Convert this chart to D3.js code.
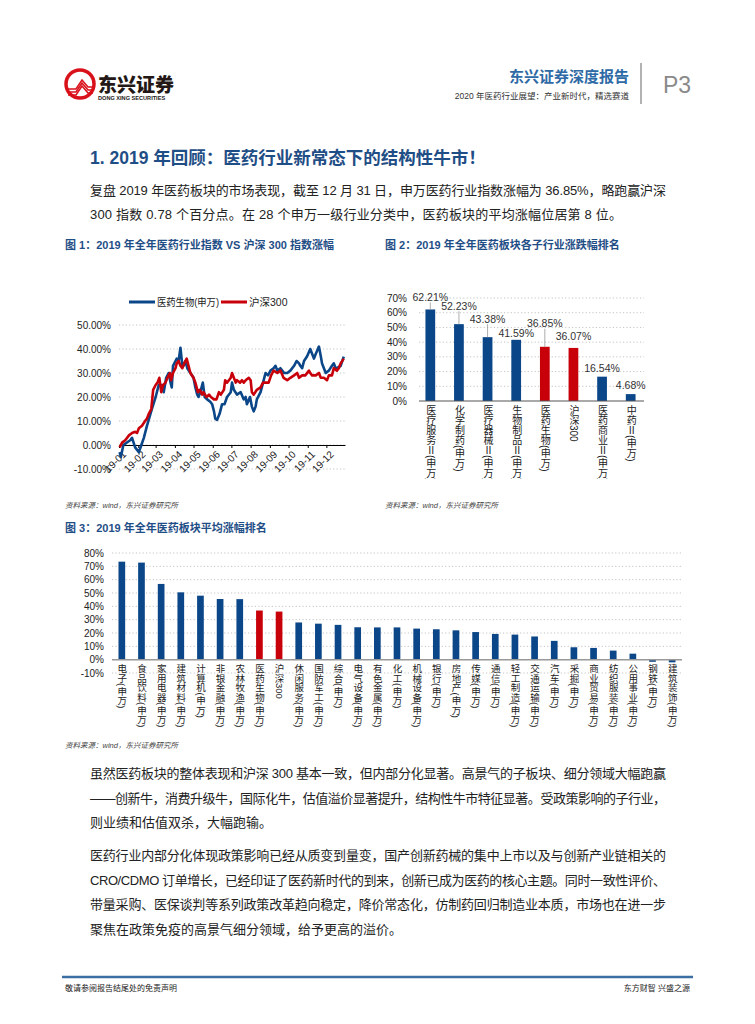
<!DOCTYPE html>
<meta charset="utf-8">
<script src="https://cdn.jsdelivr.net/npm/d3@7/dist/d3.min.js"></script>
<style>
  body { margin: 0; background: #fff; }
  text { font-family: "Liberation Sans", "Noto Sans CJK SC", sans-serif; }
</style>
<body>
<script>

// ---- chart 1: index lines (day of 2019, cumulative %)
var pharmaDays = [1,3,7,18,21,26,32,36,40,45,53,59,64,69,72,76,80,83,85,87,91,93,96,99,102,104,107,110,115,120,123,126,128,131,
  135,138,142,147,150,153,155,158,162,166,170,174,180,182,185,190,196,201,204,206,211,214,217,220,222,228,232,236,240,244,
  249,252,255,260,266,271,276,282,286,290,292,295,298,303,308,311,314,317,322,325,327,330,333,338,343,346,349,351,357,362];
var pharma = [-3,-5,0,2,3,-1,-3,0,3,8,15,20,25,25,22,28,30,26,24,33,35,36,35,40.5,33,33,35,32,30,28,24,21,20,22,
  26,20,19,18,17,14,11,10.5,13,17,17,20,22,26,23,21,22,19,20,17,20,16,14,16,19,22,26,30,29,31,
  32,33,31,32,30,30,31,33,35,34,33,32,35,37,40,38,36,38,41,37,34,32,30,31,33,34,32,32,33,36.85];
var hsDays = [1,5,10,16,21,26,29,32,37,42,45,48,52,55,59,62,65,68,71,75,78,82,84,87,91,93,96,99,102,105,109,112,115,120,123,
  127,130,134,136,141,145,148,153,157,161,164,169,171,174,177,180,182,185,188,190,195,198,201,204,209,212,214,217,222,228,
  232,236,241,245,249,255,260,265,271,276,282,287,290,295,300,306,308,311,317,322,325,330,335,338,343,346,351,354,357,362];
var hs300 = [-1,1,2,4,5,5.5,5,7,8,10,11,13,15,23,25,26,28,22,25,26,28,30,27,30,32,34,35,33,32,34,36,33,30,28,26,
  22,23,21,22,20,21,20,19,19,22,21,23,27,26,27,28,30,28,26,27,26,27,26,27,28,27,22,21,23,24,
  26,26,26,29,31,30,31,28,27,28,29,30,28,29,29,31,30,29,29,30,28,28,27,29,29,32,31,32,34,36];
var lineNames = ["医药生物(申万)", "沪深300"];
var yTicks1 = [-10, 0, 10, 20, 30, 40, 50];

// ---- chart 2: sub-sectors
var subCats = ["医疗服务Ⅱ(申万)","化学制药(申万)","医疗器械Ⅱ(申万)","生物制品Ⅱ(申万)","医药生物(申万)","沪深300","医药商业Ⅱ(申万)","中药Ⅱ(申万)"];
var subVals = [62.21, 52.23, 43.38, 41.59, 36.85, 36.07, 16.54, 4.68];
var subRed = [0, 0, 0, 0, 1, 1, 0, 0];
var yTicks2 = [0, 10, 20, 30, 40, 50, 60, 70];

// ---- chart 3: all sectors
var secCats = ["电子(申万)","食品饮料(申万)","家用电器(申万)","建筑材料(申万)","计算机(申万)","非银金融(申万)","农林牧渔(申万)",
  "医药生物(申万)","沪深300","休闲服务(申万)","国防军工(申万)","综合(申万)","电气设备(申万)","有色金属(申万)","化工(申万)",
  "机械设备(申万)","银行(申万)","房地产(申万)","传媒(申万)","通信(申万)","轻工制造(申万)","交通运输(申万)","汽车(申万)",
  "采掘(申万)","商业贸易(申万)","纺织服装(申万)","公用事业(申万)","钢铁(申万)","建筑装饰(申万)"];
var secVals = [73.5,72.8,56.8,50.5,48,45.5,45.4,36.85,36.07,27.9,27,26.1,24.3,24.2,24.2,23.3,22.8,22,20.7,19.3,18.8,17.4,14.1,
  9.3,8.8,6.8,4.5,-1.6,-2];
var secRed = secCats.map(function(c) { return c === "医药生物(申万)" || c === "沪深300" ? 1 : 0; });
var yTicks3 = [-10, 0, 10, 20, 30, 40, 50, 60, 70, 80];

var BLUE = "#0a4688", RED = "#c8000a", TITLE = "#1f4e86", GRID = "#c4c4c4";

var svg = d3.select("body").append("svg")
    .attr("width", 755)
    .attr("height", 1024);

// ---------- header
var logo = svg.append("g");
logo.append("circle").attr("cx", 80).attr("cy", 84).attr("r", 14)
    .attr("fill", "none").attr("stroke", "#d9111b").attr("stroke-width", 3.5);
[0, 3, 6].forEach(function(o) {
  logo.append("polyline")
      .attr("points", [[68, 89 + o], [76, 89 + o], [82, 80 + o], [88, 87 + o], [93, 87 + o]].join(" "))
      .attr("fill", "none").attr("stroke", "#d9111b").attr("stroke-width", 1.6);
});
svg.append("text").attr("x", 98).attr("y", 92).text("东兴证券")
    .attr("font-size", 19).attr("font-weight", 900).attr("fill", "#231815");
svg.append("text").attr("x", 98).attr("y", 100).text("DONG XING SECURITIES")
    .attr("font-size", 5.6).attr("font-weight", "bold").attr("fill", "#231815");

svg.append("text").attr("x", 629).attr("y", 82).attr("text-anchor", "end").text("东兴证券深度报告")
    .attr("font-size", 15).attr("font-weight", "bold").attr("fill", "#2e6aa5");
svg.append("text").attr("x", 629).attr("y", 99).attr("text-anchor", "end")
    .text("2020 年医药行业展望：产业新时代，精选赛道")
    .attr("font-size", 8.5).attr("fill", "#333");
svg.append("line").attr("x1", 641).attr("x2", 641).attr("y1", 63).attr("y2", 104)
    .attr("stroke", "#999").attr("stroke-width", 1.5);
svg.append("text").attr("x", 663).attr("y", 93).text("P3")
    .attr("font-size", 23).attr("fill", "#8a8a8a");

// ---------- title + paragraph
svg.append("text").attr("x", 90).attr("y", 164)
    .text("1. 2019 年回顾：医药行业新常态下的结构性牛市！")
    .attr("font-size", 17.5).attr("font-weight", "bold").attr("fill", TITLE);

function para(lines, y0, step) {
  lines.forEach(function(l, i) {
    var t = svg.append("text").attr("x", 90).attr("y", y0 + i * step).text(l.t)
        .attr("font-size", 13).attr("fill", "#222");
    if (l.w) t.attr("textLength", l.w).attr("lengthAdjust", "spacing");
  });
}
para([
  {t: "复盘 2019 年医药板块的市场表现，截至 12 月 31 日，申万医药行业指数涨幅为 36.85%，略跑赢沪深", w: 576},
  {t: "300 指数 0.78 个百分点。在 28 个申万一级行业分类中，医药板块的平均涨幅位居第 8 位。", w: 532}
], 195, 24);

// ---------- figure titles
function figTitle(x, y, s) {
  svg.append("text").attr("x", x).attr("y", y).text(s)
      .attr("font-size", 11).attr("font-weight", "bold").attr("fill", TITLE);
}
figTitle(65, 249, "图 1：2019 年全年医药行业指数 VS 沪深 300 指数涨幅");
figTitle(385, 249, "图 2：2019 年全年医药板块各子行业涨跌幅排名");
figTitle(65, 532, "图 3：2019 年全年医药板块平均涨幅排名");

function source(x, y) {
  svg.append("text").attr("x", x).attr("y", y).text("资料来源：wind，东兴证券研究所")
      .attr("font-size", 7.5).attr("font-style", "italic").attr("fill", "#444");
}
source(65, 508);
source(385, 508);
source(65, 748);

// ---------- chart 1
var day0 = new Date(2019, 0, 1);
var x1 = d3.scaleTime().domain([day0, new Date(2019, 11, 31)]).range([119, 345]);
var y1 = d3.scaleLinear().domain([-10, 50]).range([469, 325]);
var c1 = svg.append("g");

c1.selectAll(".g1").data(yTicks1).enter().append("line")
    .attr("x1", 119).attr("x2", 345)
    .attr("y1", function(d) { return y1(d); }).attr("y2", function(d) { return y1(d); })
    .attr("stroke", GRID).attr("stroke-dasharray", "1.2,2.2");
c1.selectAll(".t1").data(yTicks1).enter().append("text")
    .attr("x", 111).attr("y", function(d) { return y1(d) + 3.5; })
    .attr("text-anchor", "end").attr("font-size", 10).attr("fill", "#222")
    .text(function(d) { return d.toFixed(2) + "%"; });

var xa = c1.append("g").attr("transform", "translate(0," + y1(0) + ")")
    .call(d3.axisBottom(x1).ticks(d3.timeMonth.every(1)).tickSize(3).tickSizeOuter(0).tickFormat(""));
xa.select(".domain").attr("stroke", "#000");
xa.selectAll(".tick line").attr("stroke", "#000");
c1.selectAll(".xl").data(x1.ticks(d3.timeMonth.every(1))).enter().append("text")
    .attr("transform", function(d) { return "translate(" + (x1(d) + 3) + "," + (y1(0) + 5) + ") rotate(-45)"; })
    .attr("text-anchor", "end").attr("dy", "0.7em").attr("font-size", 10).attr("fill", "#222")
    .text(d3.timeFormat("%y-%m"));

var line1 = d3.line()
    .x(function(d) { return x1(d3.timeDay.offset(day0, d[0])); })
    .y(function(d) { return y1(d[1]); });
[[pharmaDays, pharma, BLUE], [hsDays, hs300, RED]].forEach(function(s) {
  c1.append("path").datum(d3.zip(s[0], s[1]))
      .attr("d", line1).attr("fill", "none").attr("stroke", s[2])
      .attr("stroke-width", 2.6).attr("stroke-linejoin", "round");
});

[[129, BLUE, 0], [221, RED, 1]].forEach(function(l) {
  c1.append("line").attr("x1", l[0]).attr("x2", l[0] + 26).attr("y1", 302).attr("y2", 302)
      .attr("stroke", l[1]).attr("stroke-width", 3);
  var t = c1.append("text").attr("x", l[0] + 28).attr("y", 306).text(lineNames[l[2]])
      .attr("font-size", 10.5).attr("fill", "#222");
  if (l[2] === 0) t.attr("textLength", 62).attr("lengthAdjust", "spacingAndGlyphs");
});

// ---------- chart 2
var x2 = d3.scaleBand().domain(subCats).range([416, 645]).paddingInner(0.66).paddingOuter(0.33);
var y2 = d3.scaleLinear().domain([0, 70]).range([401, 298]);
var c2 = svg.append("g");
c2.selectAll(".g2").data(yTicks2.slice(1)).enter().append("line")
    .attr("x1", 419).attr("x2", 644)
    .attr("y1", function(d) { return y2(d); }).attr("y2", function(d) { return y2(d); })
    .attr("stroke", GRID).attr("stroke-dasharray", "1.2,2.2");
c2.selectAll(".t2").data(yTicks2).enter().append("text")
    .attr("x", 407).attr("y", function(d) { return y2(d) + 3.5; })
    .attr("text-anchor", "end").attr("font-size", 10).attr("fill", "#222")
    .text(function(d) { return d + "%"; });
c2.selectAll(".b2").data(subVals).enter().append("rect")
    .attr("x", function(d, i) { return x2(subCats[i]); })
    .attr("width", x2.bandwidth())
    .attr("y", function(d) { return y2(d); })
    .attr("height", function(d) { return y2(0) - y2(d); })
    .attr("fill", function(d, i) { return subRed[i] ? RED : BLUE; });
c2.append("line").attr("x1", 419).attr("x2", 644).attr("y1", y2(0)).attr("y2", y2(0))
    .attr("stroke", "#555").attr("stroke-width", 1.2);

// label lift above bar top (px) and leader flags
var lift2 = [12, 18, 18, 6, 23, 11, 8, 9];
var lead2 = [1, 1, 1, 0, 1, 0, 0, 0];
subVals.forEach(function(v, i) {
  var cx = x2(subCats[i]) + x2.bandwidth() / 2, top = y2(v);
  if (lead2[i]) {
    c2.append("line").attr("x1", cx).attr("x2", cx).attr("y1", top - lift2[i] + 5).attr("y2", top)
        .attr("stroke", "#999").attr("stroke-width", 0.8);
  }
  c2.append("text").attr("x", cx).attr("y", top - lift2[i] + 3.5).attr("text-anchor", "middle")
      .attr("font-size", 10.5).attr("fill", "#333").text(v.toFixed(2) + "%");
});

svg.append("clipPath").attr("id", "clip2").append("rect")
    .attr("x", 400).attr("y", 400).attr("width", 260).attr("height", 79);
c2.append("g").attr("clip-path", "url(#clip2)")
  .selectAll("text").data(subCats).enter().append("text")
    .attr("x", function(d) { return x2(d) + x2.bandwidth() / 2; })
    .attr("y", 405)
    .style("writing-mode", "vertical-rl")
    .attr("font-size", 10).attr("fill", "#222")
    .text(function(d) { return d; });

// ---------- chart 3
var x3 = d3.scaleBand().domain(secCats).range([112, 682]).paddingInner(0.66).paddingOuter(0.33);
var y3 = d3.scaleLinear().domain([-10, 80]).range([673, 553]);
var c3 = svg.append("g");
c3.selectAll(".g3").data(yTicks3).enter().append("line")
    .attr("x1", 112).attr("x2", 682)
    .attr("y1", function(d) { return y3(d); }).attr("y2", function(d) { return y3(d); })
    .attr("stroke", GRID).attr("stroke-dasharray", "1.2,2.2");
c3.selectAll(".t3").data(yTicks3).enter().append("text")
    .attr("x", 104).attr("y", function(d) { return y3(d) + 3.5; })
    .attr("text-anchor", "end").attr("font-size", 10).attr("fill", "#222")
    .text(function(d) { return d + "%"; });
c3.selectAll(".b3").data(secVals).enter().append("rect")
    .attr("x", function(d, i) { return x3(secCats[i]); })
    .attr("width", x3.bandwidth())
    .attr("y", function(d) { return y3(Math.max(d, 0)); })
    .attr("height", function(d) { return Math.abs(y3(0) - y3(d)); })
    .attr("fill", function(d, i) { return secRed[i] ? RED : BLUE; });
c3.append("line").attr("x1", 112).attr("x2", 682).attr("y1", y3(0)).attr("y2", y3(0))
    .attr("stroke", "#999").attr("stroke-width", 1.5);
c3.selectAll(".xl3").data(secCats).enter().append("text")
    .attr("x", function(d) { return x3(d) + x3.bandwidth() / 2; })
    .attr("y", 664)
    .style("writing-mode", "vertical-rl")
    .attr("font-size", 9.5).attr("fill", "#222")
    .text(function(d) { return d; });

// ---------- body text
para([
  {t: "虽然医药板块的整体表现和沪深 300 基本一致，但内部分化显著。高景气的子板块、细分领域大幅跑赢", w: 576},
  {t: "——创新牛，消费升级牛，国际化牛，估值溢价显著提升，结构性牛市特征显著。受政策影响的子行业，", w: 576},
  {t: "则业绩和估值双杀，大幅跑输。"}
], 778, 24.5);
para([
  {t: "医药行业内部分化体现政策影响已经从质变到量变，国产创新药械的集中上市以及与创新产业链相关的", w: 576},
  {t: "CRO/CDMO 订单增长，已经印证了医药新时代的到来，创新已成为医药的核心主题。同时一致性评价、", w: 576},
  {t: "带量采购、医保谈判等系列政策改革趋向稳定，降价常态化，仿制药回归制造业本质，市场也在进一步", w: 576},
  {t: "聚焦在政策免疫的高景气细分领域，给予更高的溢价。"}
], 860, 24.7);

// ---------- footer
svg.append("line").attr("x1", 62).attr("x2", 693).attr("y1", 977).attr("y2", 977)
    .attr("stroke", "#3b6fa3").attr("stroke-width", 2.5);
svg.append("text").attr("x", 65).attr("y", 991).text("敬请参阅报告结尾处的免责声明")
    .attr("font-size", 8).attr("fill", "#222");
svg.append("text").attr("x", 690).attr("y", 991).attr("text-anchor", "end").text("东方财智 兴盛之源")
    .attr("font-size", 8).attr("fill", "#222");

</script>
</body>
